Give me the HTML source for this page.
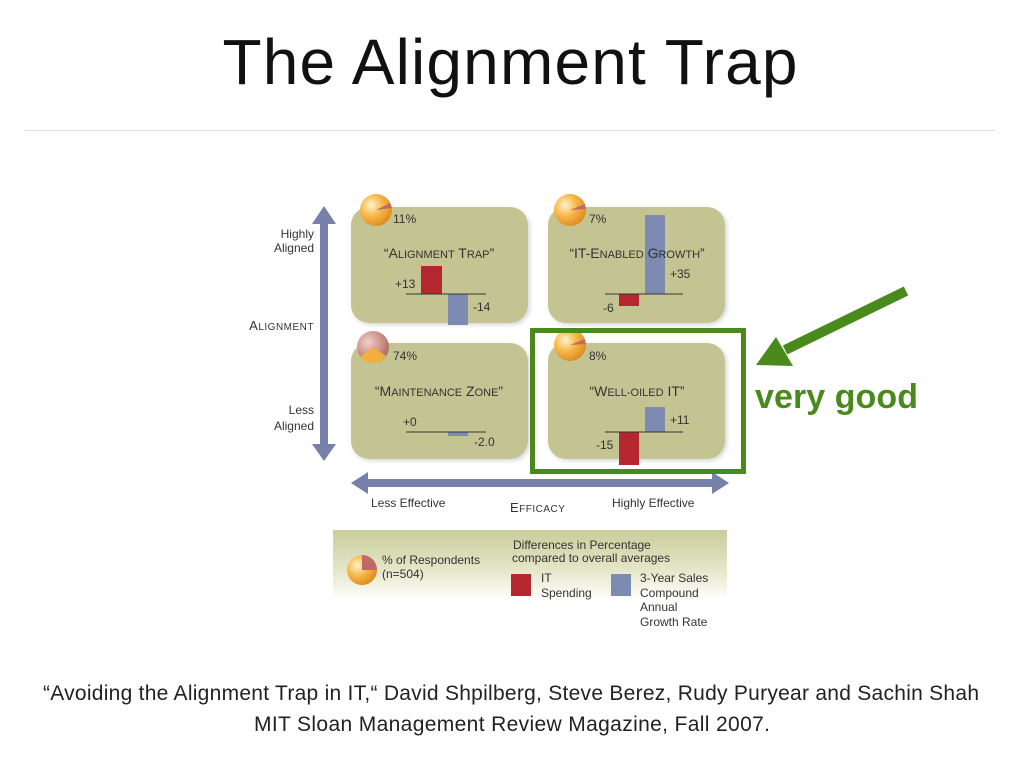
<!DOCTYPE html>
<html><head><meta charset="utf-8"><style>
html,body{margin:0;padding:0;background:#fff;width:1024px;height:768px;overflow:hidden}
svg{display:block}
</style></head><body>
<svg width="1024" height="768" viewBox="0 0 1024 768" xmlns="http://www.w3.org/2000/svg" font-family="'Liberation Sans', sans-serif">
<defs>
<radialGradient id="pie" cx="0.35" cy="0.35" r="0.7"><stop offset="0" stop-color="#fff3c8"/><stop offset="0.5" stop-color="#f7b74a"/><stop offset="1" stop-color="#e08a1c"/></radialGradient>
<radialGradient id="pie2" cx="0.35" cy="0.35" r="0.7"><stop offset="0" stop-color="#f2d0c8"/><stop offset="1" stop-color="#b06a60"/></radialGradient>
<linearGradient id="leg" x1="0" y1="0" x2="0" y2="1"><stop offset="0" stop-color="#c9cc9a"/><stop offset="0.6" stop-color="#e6e8cc"/><stop offset="1" stop-color="#fff"/></linearGradient>
<filter id="sh"><feDropShadow dx="2" dy="2" stdDeviation="2" flood-color="#000" flood-opacity="0.15"/></filter>
</defs>
<text x="510" y="84" font-size="64" text-anchor="middle" fill="#111" textLength="575" lengthAdjust="spacing">The Alignment Trap</text>
<line x1="25" y1="130.5" x2="995" y2="130.5" stroke="#ddd" stroke-width="1"/>

<rect x="320" y="222" width="8" height="224" fill="#7680a8"/>
<polygon points="324,206 312,224 336,224" fill="#7680a8"/>
<polygon points="324,461 312,444 336,444" fill="#7680a8"/>
<rect x="366" y="479" width="348" height="8" fill="#7680a8"/>
<polygon points="351,483 368,472 368,494" fill="#7680a8"/>
<polygon points="729,483 712,472 712,494" fill="#7680a8"/>

<g font-size="12" fill="#333" text-anchor="end">
<text x="314" y="238">Highly</text><text x="314" y="252">Aligned</text>
<text x="314" y="414">Less</text><text x="314" y="430">Aligned</text>
</g>
<text x="314" y="330" font-size="13" text-anchor="end" fill="#333" letter-spacing="0.5">A<tspan font-size="10">LIGNMENT</tspan></text>
<text x="371" y="507" font-size="12" fill="#333">Less Effective</text>
<text x="612" y="507" font-size="12" fill="#333">Highly Effective</text>
<text x="510" y="512" font-size="13" fill="#333" letter-spacing="0.5">E<tspan font-size="10">FFICACY</tspan></text>

<g fill="#c3c492" filter="url(#sh)">
<rect x="351" y="207" width="177" height="116" rx="18"/>
<rect x="548" y="207" width="177" height="116" rx="18"/>
<rect x="351" y="343" width="177" height="116" rx="18"/>
<rect x="548" y="343" width="177" height="116" rx="18"/>
</g>

<rect x="421" y="266" width="21" height="28" fill="#b5262e"/>
<rect x="448" y="294" width="20" height="31" fill="#7d8ab2"/>
<line x1="406" y1="294" x2="486" y2="294" stroke="#333"/>
<rect x="645" y="215" width="20" height="79" fill="#7d8ab2"/>
<rect x="619" y="294" width="20" height="12" fill="#b5262e"/>
<line x1="605" y1="294" x2="683" y2="294" stroke="#333"/>
<rect x="448" y="432" width="20" height="4" fill="#7d8ab2"/>
<line x1="406" y1="432" x2="486" y2="432" stroke="#333"/>
<rect x="645" y="407" width="20" height="25" fill="#7d8ab2"/>
<rect x="619" y="432" width="20" height="33" fill="#b5262e"/>
<line x1="605" y1="432" x2="683" y2="432" stroke="#333"/>

<circle cx="376" cy="210" r="16" fill="url(#pie)"/><path d="M376,210 L392,208 A16,16 0 0 1 390,203 Z" fill="#c06a68"/>
<circle cx="570" cy="210" r="16" fill="url(#pie)"/><path d="M570,210 L586,209 A16,16 0 0 1 585,204 Z" fill="#c06a68"/>
<circle cx="373" cy="347" r="16" fill="url(#pie2)"/><path d="M373,347 L386,356 A16,16 0 0 1 360,357 Z" fill="#f3ae42"/>
<circle cx="570" cy="345" r="16" fill="url(#pie)"/><path d="M570,345 L586,344 A16,16 0 0 1 585,339 Z" fill="#c06a68"/>

<g font-size="12" fill="#333">
<text x="393" y="223">11%</text><text x="589" y="223">7%</text>
<text x="393" y="360">74%</text><text x="589" y="360">8%</text>
</g>
<g font-size="14" fill="#333" text-anchor="middle">
<text x="439" y="258">“A<tspan font-size="11">LIGNMENT</tspan> T<tspan font-size="11">RAP</tspan>”</text>
<text x="637" y="258">“IT-E<tspan font-size="11">NABLED</tspan> G<tspan font-size="11">ROWTH</tspan>”</text>
<text x="439" y="396">“M<tspan font-size="11">AINTENANCE</tspan> Z<tspan font-size="11">ONE</tspan>”</text>
<text x="637" y="396">“W<tspan font-size="11">ELL-OILED</tspan> IT”</text>
</g>
<g font-size="12" fill="#333">
<text x="395" y="288">+13</text><text x="473" y="311">-14</text>
<text x="670" y="278">+35</text><text x="603" y="312">-6</text>
<text x="403" y="426">+0</text><text x="474" y="446">-2.0</text>
<text x="670" y="424">+11</text><text x="596" y="449">-15</text>
</g>

<rect x="333" y="530" width="394" height="70" fill="url(#leg)"/>
<circle cx="362" cy="570" r="15" fill="url(#pie)"/><path d="M362,570 L362,555 A15,15 0 0 1 377,570 Z" fill="#c06a68"/>
<g font-size="12" fill="#333">
<text x="382" y="564">% of Respondents</text><text x="382" y="578">(n=504)</text>
<text x="513" y="549">Differences in Percentage</text>
<text x="512" y="562">compared to overall averages</text>
<text x="541" y="582">IT</text><text x="541" y="597">Spending</text>
<text x="640" y="582">3-Year Sales</text><text x="640" y="597">Compound</text>
<text x="640" y="611">Annual</text><text x="640" y="626">Growth Rate</text>
</g>
<rect x="511" y="574" width="20" height="22" fill="#b5262e"/>
<rect x="611" y="574" width="20" height="22" fill="#7d8ab2"/>

<rect x="532.5" y="330.5" width="211" height="141" fill="none" stroke="#4a8a1c" stroke-width="5"/>
<line x1="906" y1="291" x2="785" y2="350" stroke="#4a8a1c" stroke-width="10"/>
<polygon points="756,365 776,337 793,366" fill="#4a8a1c"/>
<text x="755" y="408" font-size="34" font-weight="bold" fill="#4a8a1c" textLength="163" lengthAdjust="spacing">very good</text>

<text x="511" y="700" font-size="21" text-anchor="middle" fill="#222" textLength="936" lengthAdjust="spacing">“Avoiding the Alignment Trap in IT,“ David Shpilberg, Steve Berez, Rudy Puryear and Sachin Shah</text>
<text x="512" y="731" font-size="21" text-anchor="middle" fill="#222" textLength="516" lengthAdjust="spacing">MIT Sloan Management Review Magazine, Fall 2007.</text>
</svg>
</body></html>
